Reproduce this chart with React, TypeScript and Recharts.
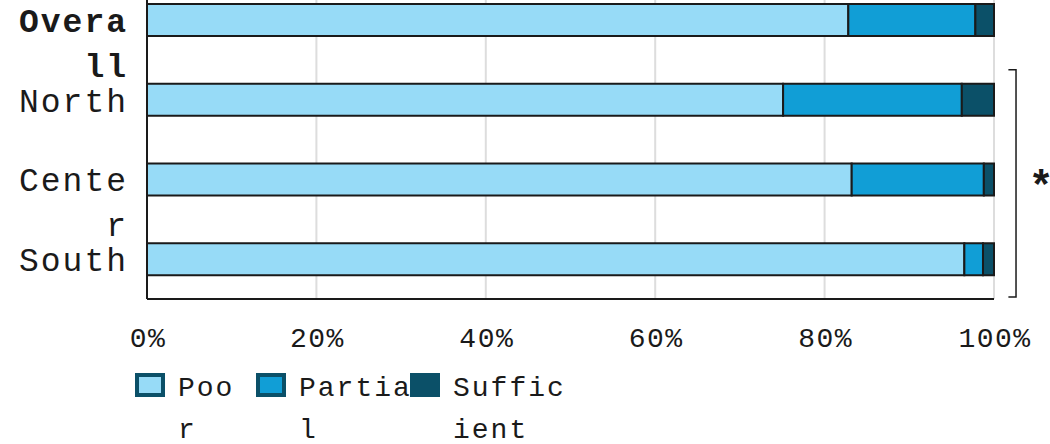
import { Bar, BarChart, CartesianGrid, ReferenceArea, XAxis, YAxis } from 'recharts';

const categories = ['Overall', 'North', 'Center', 'South'];
const poor = [82.8, 75.1, 83.2, 96.5];
const partial = [15.0, 21.1, 15.6, 2.2];
const sufficient = [2.2, 3.8, 1.2, 1.3];
const xTicks = [0, 20, 40, 60, 80, 100];
const seriesNames = ['Poor', 'Partial', 'Sufficient'];
const seriesKeys = ['poor', 'partial', 'sufficient'];
const seriesColors = ['#97dbf7', '#119ed6', '#0b5068'];
const boldCategories = ['Overall'];
const bracketFrom = 'North';
const bracketTo = 'South';
const bracketMark = '*';

const data = categories.map((name, i) => ({
  name,
  poor: poor[i],
  partial: partial[i],
  sufficient: sufficient[i]
}));

const courier = '"Courier New", Courier, "Nimbus Mono PS", "Liberation Mono", monospace';
const mono = '"Liberation Mono", "DejaVu Sans Mono", monospace';
const ink = '#1a1a1a';

// split text into chunks of n chars (labels wrap by width in a monospace font)
function chunk(s: string, n: number) {
  const out: string[] = [];
  for (let i = 0; i < s.length; i += n) out.push(s.slice(i, i + n));
  return out;
}

function CategoryTick(props: any) {
  const { x, y, payload } = props;
  const lines = chunk(String(payload.value), 5);
  const bold = boldCategories.includes(payload.value);
  return (
    <g>
      {lines.map((l, i) => (
        <text
          key={i}
          x={x}
          y={y + 12 + i * 45}
          textAnchor="end"
          fontFamily={courier}
          fontSize={33}
          letterSpacing={2}
          fontWeight={bold ? 'bold' : 'normal'}
          fill={ink}
        >
          {l}
        </text>
      ))}
    </g>
  );
}

function PercentTick(props: any) {
  const { x, y, payload } = props;
  return (
    <text x={x + 1} y={y + 48} textAnchor="middle" fontFamily={mono} fontSize={28} letterSpacing={1.5} fill={ink}>
      {payload.value}%
    </text>
  );
}

function Bracket(props: any) {
  const { x, y, width, height } = props;
  const top = y + 10;
  const bottom = y + height - 2;
  const right = x + width;
  return (
    <g>
      <path d={`M${x} ${top} H${right} V${bottom} H${x}`} stroke={ink} strokeWidth={1.5} fill="none" />
      <text x={right + 25} y={(top + bottom) / 2 + 17} textAnchor="middle" fontFamily={mono} fontSize={42} fontWeight="bold" fill={ink}>
        {bracketMark}
      </text>
    </g>
  );
}

const itemWidths = [121, 154, 200];
const textWidths = [60, 120, 120];

function LegendBox() {
  return (
    <div style={{ position: 'absolute', left: 135, top: 390, display: 'flex', fontFamily: courier, fontSize: 28, letterSpacing: 2, lineHeight: '42px', color: ink }}>
      {seriesNames.map((name, i) => (
        <div key={name} style={{ width: itemWidths[i], display: 'flex', alignItems: 'flex-start' }}>
          <div
            style={{
              width: 30,
              height: 24,
              marginTop: 5,
              boxSizing: 'border-box',
              border: `4px solid ${seriesColors[2]}`,
              background: seriesColors[i],
              flex: 'none'
            }}
          />
          <div style={{ marginLeft: 13, width: textWidths[i], wordBreak: 'break-all', flex: 'none' }}>{name}</div>
        </div>
      ))}
    </div>
  );
}

export default function App() {
  return (
    <div style={{ position: 'absolute', top: -22, left: 0, width: 1050, height: 466, overflow: 'hidden' }}>
      <BarChart width={1050} height={466} data={data} layout="vertical" barSize={32} margin={{ top: 2, right: 56, bottom: 85, left: 0 }}>
        <CartesianGrid horizontal={false} stroke="#dddddd" strokeWidth={2} />
        <XAxis
          type="number"
          domain={[0, 100]}
          ticks={xTicks}
          height={60}
          tickLine={false}
          tickSize={0}
          tickMargin={0}
          axisLine={{ stroke: ink, strokeWidth: 2 }}
          tick={<PercentTick />}
        />
        <YAxis
          type="category"
          dataKey="name"
          width={147}
          tickLine={false}
          tickSize={0}
          tickMargin={19}
          axisLine={{ stroke: ink, strokeWidth: 2 }}
          tick={<CategoryTick />}
        />
        {seriesKeys.map((k, i) => (
          <Bar key={k} dataKey={k} name={seriesNames[i]} stackId="a" fill={seriesColors[i]} stroke={ink} strokeWidth={2} isAnimationActive={false} />
        ))}
        <ReferenceArea x1={101.7} x2={102.6} y1={bracketFrom} y2={bracketTo} ifOverflow="visible" shape={<Bracket />} />
      </BarChart>
      <LegendBox />
    </div>
  );
}
